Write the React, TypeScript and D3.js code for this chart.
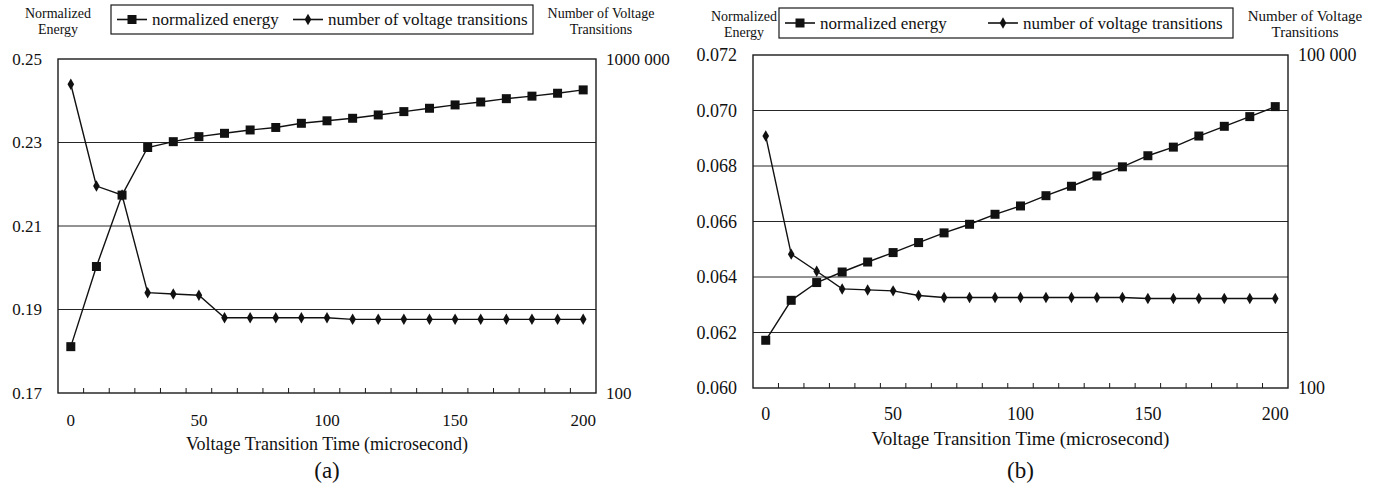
import { useEffect, useRef } from "react";
import * as d3 from "d3";

// x categories (voltage transition time, microseconds)
const times = [0, 10, 20, 30, 40, 50, 60, 70, 80, 90, 100, 110, 120, 130, 140, 150, 160, 170, 180, 190, 200];
const xLabelEvery = 5;

// panel (a)
const energyA = [
  0.1811, 0.2003, 0.2174, 0.2288, 0.2302, 0.2314, 0.2322, 0.233, 0.2336, 0.2346, 0.2352,
  0.2358, 0.2366, 0.2374, 0.2382, 0.239, 0.2397, 0.2405, 0.2411, 0.2418, 0.2426,
];
const transitionsA = [
  498000, 30100, 23500, 1590, 1535, 1480, 798, 798, 798, 798, 798,
  762, 762, 762, 762, 762, 762, 762, 762, 762, 762,
];
const leftTicksA = [0.17, 0.19, 0.21, 0.23, 0.25];
const rightTicksA = [100, 1000000];
const rightLabelsA = ["100", "1000 000"];

// panel (b)
const energyB = [
  0.06172, 0.06316, 0.0638, 0.06418, 0.06454, 0.06488, 0.06524, 0.06559, 0.0659, 0.06626, 0.06656,
  0.06693, 0.06727, 0.06764, 0.06797, 0.06837, 0.06868, 0.06908, 0.06943, 0.06978, 0.07014,
];
const transitionsB = [
  18600, 1607, 1127, 781, 765, 750, 681, 653, 653, 653, 653,
  653, 653, 653, 653, 640, 640, 640, 640, 640, 640,
];
const leftTicksB = [0.06, 0.062, 0.064, 0.066, 0.068, 0.07, 0.072];
const rightTicksB = [100, 100000];
const rightLabelsB = ["100", "100 000"];

const legendNames = ["normalized energy", "number of voltage transitions"];
const xTitle = "Voltage Transition Time (microsecond)";
const leftTitle = ["Normalized", "Energy"];
const rightTitle = ["Number of Voltage", "Transitions"];

const FONT = "Liberation Serif, DejaVu Serif, serif";

type Panel = {
  left: number;
  right: number;
  top: number;
  bottom: number;
  energy: number[];
  transitions: number[];
  leftTicks: number[];
  leftFormat: string;
  rightTicks: number[];
  rightLabels: string[];
  caption: string;
  fs: number;
  legendFs: number;
  titleFs: [number, number];
  legend: { x: number; y: number; w: number; h: number; item2: number };
  leftTitleX: number;
  rightTitleX: number;
  titleY: number;
  tickLabelY: number;
};

const panels: Panel[] = [
  {
    left: 58, right: 596, top: 59, bottom: 393,
    energy: energyA, transitions: transitionsA,
    leftTicks: leftTicksA, leftFormat: ".2f",
    rightTicks: rightTicksA, rightLabels: rightLabelsA,
    caption: "(a)", fs: 17, legendFs: 17, titleFs: [14, 14],
    legend: { x: 111, y: 5, w: 422, h: 29, item2: 293 },
    leftTitleX: 58, rightTitleX: 601, titleY: 13, tickLabelY: 420,
  },
  {
    left: 753, right: 1288, top: 55, bottom: 388,
    energy: energyB, transitions: transitionsB,
    leftTicks: leftTicksB, leftFormat: ".3f",
    rightTicks: rightTicksB, rightLabels: rightLabelsB,
    caption: "(b)", fs: 18, legendFs: 17, titleFs: [14, 15],
    legend: { x: 779, y: 8, w: 454, h: 30, item2: 988 },
    leftTitleX: 744, rightTitleX: 1305, titleY: 16, tickLabelY: 414,
  },
];

function drawPanel(svg: d3.Selection<SVGSVGElement, unknown, null, undefined>, p: Panel) {
  const g = svg.append("g");

  const x = d3.scaleBand<number>().domain(times).range([p.left, p.right]).padding(0);
  const cx = (t: number) => (x(t) as number) + x.bandwidth() / 2;

  const yL = d3
    .scaleLinear()
    .domain([p.leftTicks[0], p.leftTicks[p.leftTicks.length - 1]])
    .range([p.bottom, p.top]);
  const yR = d3
    .scaleLog()
    .domain([p.rightTicks[0], p.rightTicks[p.rightTicks.length - 1]])
    .range([p.bottom, p.top]);

  // gridlines
  g.append("g")
    .selectAll("line")
    .data(p.leftTicks.slice(1, -1))
    .join("line")
    .attr("x1", p.left)
    .attr("x2", p.right)
    .attr("y1", (d) => yL(d))
    .attr("y2", (d) => yL(d))
    .attr("stroke", "#262626")
    .attr("stroke-width", 1);

  // plot frame
  g.append("rect")
    .attr("x", p.left)
    .attr("y", p.top)
    .attr("width", p.right - p.left)
    .attr("height", p.bottom - p.top)
    .attr("fill", "none")
    .attr("stroke", "#1a1a1a")
    .attr("stroke-width", 1.4);

  // category tick marks (between categories, pointing inward)
  g.append("g")
    .selectAll("line")
    .data(times.slice(1))
    .join("line")
    .attr("x1", (d) => x(d) as number)
    .attr("x2", (d) => x(d) as number)
    .attr("y1", p.bottom)
    .attr("y2", p.bottom - 5)
    .attr("stroke", "#1a1a1a")
    .attr("stroke-width", 1);

  // x labels
  g.append("g")
    .selectAll("text")
    .data(times.filter((_, i) => i % xLabelEvery === 0))
    .join("text")
    .attr("x", (d) => cx(d))
    .attr("y", p.tickLabelY)
    .attr("text-anchor", "middle")
    .attr("dominant-baseline", "central")
    .attr("font-size", p.fs)
    .text((d) => String(d));

  g.append("text")
    .attr("x", (p.left + p.right) / 2)
    .attr("y", p.tickLabelY + 24)
    .attr("text-anchor", "middle")
    .attr("dominant-baseline", "central")
    .attr("font-size", p.fs + 1)
    .text(xTitle);

  g.append("text")
    .attr("x", (p.left + p.right) / 2)
    .attr("y", 470)
    .attr("text-anchor", "middle")
    .attr("dominant-baseline", "central")
    .attr("font-size", 23)
    .text(p.caption);

  // left y labels
  const fmt = d3.format(p.leftFormat);
  g.append("g")
    .selectAll("text")
    .data(p.leftTicks)
    .join("text")
    .attr("x", p.left - 16)
    .attr("y", (d) => yL(d))
    .attr("text-anchor", "end")
    .attr("dominant-baseline", "central")
    .attr("font-size", p.fs)
    .text((d) => fmt(d));

  // right y labels
  g.append("g")
    .selectAll("text")
    .data(p.rightTicks)
    .join("text")
    .attr("x", p.right + 10)
    .attr("y", (d) => yR(d))
    .attr("text-anchor", "start")
    .attr("dominant-baseline", "central")
    .attr("font-size", p.fs)
    .text((_, i) => p.rightLabels[i]);

  // axis titles
  [leftTitle, rightTitle].forEach((lines, k) => {
    const tx = k === 0 ? p.leftTitleX : p.rightTitleX;
    const t = g
      .append("text")
      .attr("x", tx)
      .attr("y", p.titleY)
      .attr("text-anchor", "middle")
      .attr("font-size", p.titleFs[k]);
    lines.forEach((s, i) => {
      t.append("tspan")
        .attr("x", tx)
        .attr("dy", i === 0 ? "0.35em" : 16)
        .text(s);
    });
  });

  // series
  const energyLine = d3
    .line<number>()
    .x((_, i) => cx(times[i]))
    .y((d) => yL(d));
  const transLine = d3
    .line<number>()
    .x((_, i) => cx(times[i]))
    .y((d) => yR(d));

  g.append("path")
    .datum(p.transitions)
    .attr("d", transLine)
    .attr("fill", "none")
    .attr("stroke", "#111")
    .attr("stroke-width", 1.4);
  g.append("path")
    .datum(p.energy)
    .attr("d", energyLine)
    .attr("fill", "none")
    .attr("stroke", "#111")
    .attr("stroke-width", 1.4);

  const square = d3.symbol(d3.symbolSquare, 81);
  const diamond = d3.symbol(d3.symbolDiamond, 38);

  g.append("g")
    .selectAll("path")
    .data(p.transitions)
    .join("path")
    .attr("d", diamond)
    .attr("transform", (d, i) => `translate(${cx(times[i])},${yR(d)})`)
    .attr("fill", "#111");
  g.append("g")
    .selectAll("path")
    .data(p.energy)
    .join("path")
    .attr("d", square)
    .attr("transform", (d, i) => `translate(${cx(times[i])},${yL(d)})`)
    .attr("fill", "#111");

  // legend
  const L = p.legend;
  const lg = g.append("g");
  lg.append("rect")
    .attr("x", L.x)
    .attr("y", L.y)
    .attr("width", L.w)
    .attr("height", L.h)
    .attr("fill", "#fff")
    .attr("stroke", "#1a1a1a")
    .attr("stroke-width", 1.2);
  const midY = L.y + L.h / 2;
  const itemX = [L.x + 6, L.item2];
  itemX.forEach((ix, i) => {
    lg.append("line")
      .attr("x1", ix)
      .attr("x2", ix + 30)
      .attr("y1", midY)
      .attr("y2", midY)
      .attr("stroke", "#111")
      .attr("stroke-width", 1.6);
    lg.append("path")
      .attr("d", i === 0 ? square : diamond)
      .attr("transform", `translate(${ix + 15},${midY})`)
      .attr("fill", "#111");
    lg.append("text")
      .attr("x", ix + 35)
      .attr("y", midY)
      .attr("dominant-baseline", "central")
      .attr("font-size", p.legendFs)
      .text(legendNames[i]);
  });
}

export default function App() {
  const svgRef = useRef<SVGSVGElement>(null);

  useEffect(() => {
    const svg = d3.select(svgRef.current as SVGSVGElement);
    svg.selectAll("*").remove();
    svg.style("font-family", FONT).attr("fill", "#111");
    svg.append("rect").attr("width", 1374).attr("height", 490).attr("fill", "#fff");
    panels.forEach((p) => drawPanel(svg, p));
  }, []);

  return (
    <svg
      ref={svgRef}
      width={1374}
      height={490}
      viewBox="0 0 1374 490"
      style={{ position: "absolute", left: 0, top: 0, fontFamily: FONT }}
    />
  );
}
